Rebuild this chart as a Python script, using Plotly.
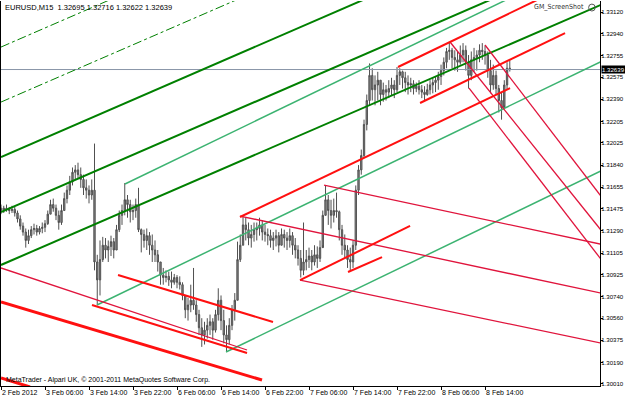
import plotly.graph_objects as go

# ---------------- data ----------------
# bar time in trading hours from 2 Feb 2012 22:00 (30-min aggregation of the M15 candles)
bar_hours = [i * 0.5 for i in range(186)]

highs = [1.3151,1.3150,1.3151,1.3149,1.3150,1.3149,1.3146,1.3142,1.3136,1.3131,
1.3130,1.3133,1.3135,1.3134,1.3133,1.3136,1.3138,1.3146,1.3155,1.3156,
1.3151,1.3146,1.3151,1.3161,1.3167,1.3175,1.3182,1.3184,1.3186,1.3182,
1.3176,1.3172,1.3167,1.3172,1.3202,1.3109,1.3121,1.3124,1.3123,1.3121,
1.3125,1.3123,1.3134,1.3146,1.3151,1.3169,1.3159,1.3155,1.3151,1.3156,
1.3165,1.3131,1.3130,1.3131,1.3128,1.3126,1.3121,1.3113,1.3103,1.3098,
1.3096,1.3095,1.3095,1.3093,1.3092,1.3091,1.3086,1.3075,1.3073,1.3084,
1.3098,1.3071,1.3063,1.3056,1.3053,1.3056,1.3059,1.3056,1.3063,1.3081,
1.3075,1.3063,1.3050,1.3056,1.3067,1.3077,1.3120,1.3126,1.3141,1.3140,
1.3136,1.3134,1.3136,1.3136,1.3140,1.3138,1.3134,1.3131,1.3130,1.3128,
1.3130,1.3128,1.3131,1.3130,1.3128,1.3131,1.3128,1.3123,1.3117,1.3113,
1.3136,1.3113,1.3115,1.3113,1.3117,1.3116,1.3121,1.3146,1.3167,1.3159,
1.3155,1.3156,1.3161,1.3146,1.3134,1.3126,1.3117,1.3115,1.3121,1.3167,
1.3184,1.3197,1.3222,1.3243,1.3269,1.3265,1.3259,1.3262,1.3255,1.3253,
1.3251,1.3255,1.3257,1.3255,1.3266,1.3265,1.3263,1.3262,1.3259,1.3257,
1.3255,1.3253,1.3255,1.3251,1.3250,1.3252,1.3255,1.3257,1.3258,1.3262,
1.3268,1.3274,1.3282,1.3287,1.3282,1.3280,1.3279,1.3284,1.3286,1.3284,
1.3276,1.3279,1.3282,1.3280,1.3285,1.3286,1.3284,1.3279,1.3272,1.3268,
1.3263,1.3251,1.3245,1.3255,1.3270,1.32716]

lows = [1.3143,1.3144,1.3145,1.3143,1.3144,1.3141,1.3136,1.3130,1.3125,1.3115,
1.3118,1.3123,1.3126,1.3125,1.3126,1.3127,1.3128,1.3134,1.3143,1.3145,
1.3138,1.3130,1.3134,1.3146,1.3152,1.3159,1.3167,1.3172,1.3173,1.3165,
1.3159,1.3156,1.3152,1.3155,1.3096,1.3067,1.3075,1.3103,1.3106,1.3103,
1.3108,1.3106,1.3113,1.3128,1.3134,1.3142,1.3140,1.3136,1.3138,1.3140,
1.3128,1.3111,1.3115,1.3113,1.3109,1.3103,1.3103,1.3095,1.3084,1.3084,
1.3086,1.3083,1.3081,1.3084,1.3081,1.3080,1.3071,1.3056,1.3054,1.3061,
1.3063,1.3053,1.3042,1.3032,1.3034,1.3039,1.3042,1.3038,1.3044,1.3054,
1.3046,1.3035,1.3028,1.3034,1.3046,1.3054,1.3071,1.3103,1.3117,1.3121,
1.3117,1.3115,1.3120,1.3121,1.3125,1.3121,1.3120,1.3117,1.3115,1.3113,
1.3116,1.3111,1.3117,1.3115,1.3113,1.3115,1.3109,1.3106,1.3100,1.3090,
1.3092,1.3096,1.3098,1.3096,1.3100,1.3098,1.3103,1.3117,1.3142,1.3134,
1.3131,1.3136,1.3140,1.3121,1.3109,1.3106,1.3098,1.3096,1.3098,1.3113,
1.3159,1.3176,1.3190,1.3213,1.3234,1.3238,1.3234,1.3238,1.3234,1.3237,
1.3238,1.3240,1.3242,1.3240,1.3245,1.3251,1.3248,1.3245,1.3243,1.3245,
1.3243,1.3245,1.3243,1.3240,1.3238,1.3242,1.3243,1.3244,1.3245,1.3247,
1.3251,1.3259,1.3265,1.3272,1.3265,1.3263,1.3262,1.3268,1.3270,1.3263,
1.3248,1.3255,1.3262,1.3263,1.3270,1.3272,1.3268,1.3257,1.3244,1.3247,
1.3243,1.3228,1.3222,1.3234,1.3247,1.32622]

closes = [1.3146,1.3148,1.3147,1.3146,1.3147,1.3144,1.3139,1.3133,1.3128,1.3121,
1.3125,1.3130,1.3131,1.3128,1.3131,1.3132,1.3135,1.3143,1.3151,1.3148,
1.3142,1.3136,1.3146,1.3156,1.3163,1.3170,1.3178,1.3180,1.3176,1.3172,
1.3165,1.3163,1.3159,1.3163,1.3103,1.3088,1.3105,1.3117,1.3113,1.3116,
1.3120,1.3113,1.3130,1.3142,1.3146,1.3155,1.3151,1.3145,1.3146,1.3151,
1.3130,1.3126,1.3121,1.3125,1.3117,1.3113,1.3109,1.3103,1.3092,1.3090,
1.3091,1.3088,1.3086,1.3090,1.3086,1.3084,1.3075,1.3063,1.3067,1.3071,
1.3067,1.3059,1.3048,1.3042,1.3046,1.3050,1.3053,1.3046,1.3059,1.3071,
1.3054,1.3042,1.3038,1.3050,1.3063,1.3071,1.3105,1.3117,1.3134,1.3130,
1.3123,1.3126,1.3130,1.3131,1.3134,1.3128,1.3126,1.3125,1.3121,1.3123,
1.3125,1.3117,1.3126,1.3123,1.3121,1.3125,1.3117,1.3113,1.3106,1.3096,
1.3103,1.3105,1.3108,1.3103,1.3109,1.3106,1.3115,1.3142,1.3155,1.3146,
1.3142,1.3146,1.3145,1.3130,1.3117,1.3113,1.3105,1.3103,1.3117,1.3163,
1.3180,1.3192,1.3218,1.3238,1.3259,1.3247,1.3251,1.3255,1.3243,1.3247,
1.3245,1.3248,1.3251,1.3247,1.3259,1.3262,1.3257,1.3253,1.3251,1.3252,
1.3248,1.3250,1.3247,1.3245,1.3243,1.3247,1.3251,1.3253,1.3255,1.3258,
1.3263,1.3270,1.3279,1.3280,1.3274,1.3272,1.3270,1.3276,1.3280,1.3270,
1.3259,1.3272,1.3274,1.3276,1.3280,1.3279,1.3276,1.3263,1.3251,1.3259,
1.3248,1.3238,1.3232,1.3251,1.3265,1.32639]

first_open = 1.3148
current_price = 1.32639

# drawn objects: (hour0, price0, hour1, price1, is_ray)
dark_green_lines = [(0, 1.31907, 50, 1.32905, True),
                    (0, 1.31448, 50, 1.32445, True),
                    (0, 1.31005, 50, 1.32002, True)]
dash_green_lines = [(0, 1.32367, 50, 1.33365, True),
                    (0, 1.32827, 50, 1.33825, True)]
light_green_lines = [(22.545, 1.31682, 60, 1.32514, True),
                     (17.455, 1.30670, 60, 1.31615, True),
                     (40.909, 1.30277, 100, 1.31590, True)]
red_lines = [(43.455, 1.31406, 92.545, 1.32484, False),
             (72.182, 1.32660, 90, 1.33055, True),
             (76.182, 1.32359, 102.545, 1.32944, False),
             (54.364, 1.30879, 74.364, 1.31331, False),
             (63.091, 1.30946, 69.273, 1.31071, False),
             (16.545, 1.30670, 44.727, 1.30269, False),
             (21.273, 1.30921, 49.455, 1.30528, False)]
thick_red_lines = [(0, 1.30695, 47.455, 1.30043, False),
                   (0, 1.30060, 5.273, 1.29985, False)]
crimson_lines = [(0, 1.30980, 44.727, 1.30294, False),
                 (58.727, 1.31673, 108.909, 1.31180, True),
                 (43.455, 1.31414, 108.909, 1.30771, True),
                 (54.364, 1.30879, 108.909, 1.30353, True),
                 (81.636, 1.32869, 108.909, 1.31306, True),
                 (88.0, 1.32844, 108.909, 1.31590, True),
                 (85.091, 1.32484, 108.909, 1.31063, True)]

x_tick_hours = [0, 8, 16, 24, 32, 40, 48, 56, 64, 72, 80, 88]
x_tick_labels = ["2 Feb 2012", "3 Feb 06:00", "3 Feb 14:00", "3 Feb 22:00",
                 "6 Feb 06:00", "6 Feb 14:00", "6 Feb 22:00", "7 Feb 06:00",
                 "7 Feb 14:00", "7 Feb 22:00", "8 Feb 06:00", "8 Feb 14:00"]
y_tick_prices = [1.30010, 1.30190, 1.30375, 1.30560, 1.30740, 1.30925, 1.31105,
                 1.31290, 1.31475, 1.31655, 1.31840, 1.32025, 1.32205, 1.32390,
                 1.32575, 1.32755, 1.32940, 1.33120]

X_RANGE = [0, 108.9]
Y_RANGE = [1.29993, 1.33212]

# ---------------- figure ----------------
opens = [first_open] + closes[:-1]
fig = go.Figure()

FONT = "Liberation Sans"
NARROW = "Liberation Sans Narrow, DejaVu Sans Condensed, Liberation Sans"


def add_lines(lines, color, width, dash="solid"):
    for (h0, p0, h1, p1, ray) in lines:
        if ray:
            slope = (p1 - p0) / (h1 - h0)
            h1e = 130
            p1 = p0 + slope * (h1e - h0)
            h1 = h1e
        fig.add_trace(go.Scatter(x=[h0, h1], y=[p0, p1], mode="lines",
                                 line=dict(color=color, width=width, dash=dash),
                                 hoverinfo="skip", showlegend=False))


# current price line
fig.add_trace(go.Scatter(x=[X_RANGE[0], X_RANGE[1]], y=[current_price, current_price],
                         mode="lines", line=dict(color="#8a96a8", width=1),
                         hoverinfo="skip", showlegend=False))

add_lines(dash_green_lines, "#008000", 1, "dashdot")
add_lines(dark_green_lines, "#008000", 2)
add_lines(light_green_lines, "#3cb371", 1.5)

fig.add_trace(go.Candlestick(
    x=bar_hours, open=opens, high=highs, low=lows, close=closes,
    increasing=dict(line=dict(color="#505050", width=1), fillcolor="#8a8a8a"),
    decreasing=dict(line=dict(color="#505050", width=1), fillcolor="#8a8a8a"),
    whiskerwidth=0, showlegend=False, hoverinfo="skip"))

add_lines(crimson_lines, "#e0143c", 1.3)
add_lines(red_lines, "#ff1010", 2)
add_lines(thick_red_lines, "#ff1010", 3)

fig.update_layout(
    width=625, height=397,
    margin=dict(l=1, r=25, t=1, b=11, autoexpand=False),
    paper_bgcolor="white", plot_bgcolor="white",
    showlegend=False,
    font=dict(family=FONT, size=7, color="black"),
    xaxis=dict(range=X_RANGE, tickvals=x_tick_hours, ticktext=x_tick_labels,
               ticks="outside", ticklen=3, tickcolor="black", tickangle=0,
               ticklabelposition="outside right", automargin=False,
               tickfont=dict(family=FONT, size=7, color="black"),
               showgrid=False, zeroline=False, showline=True, linecolor="black",
               linewidth=1, rangeslider=dict(visible=False), fixedrange=True),
    yaxis=dict(range=Y_RANGE, side="right", tickvals=y_tick_prices,
               ticktext=[f"{v:.5f}" for v in y_tick_prices], automargin=False,
               ticks="outside", ticklen=2, tickcolor="black",
               ticklabelstandoff=-3,
               tickfont=dict(family=FONT, size=6.1, color="black"),
               showgrid=False, zeroline=False, showline=True, linecolor="black",
               linewidth=1, mirror=True, fixedrange=True),
)

fig.add_annotation(xref="paper", yref="paper", x=0.0033, y=0.984, xanchor="left",
                   yanchor="middle", showarrow=False,
                   text="EURUSD,M15  1.32695 1.32716 1.32622 1.32639",
                   font=dict(family=FONT, size=7.5, color="black"))
fig.add_annotation(xref="paper", yref="paper", x=0.9766, y=0.984, xanchor="right",
                   yanchor="middle", showarrow=False, text="GM_ScreenShot",
                   font=dict(family=NARROW, size=7, color="#333333"))
fig.add_shape(type="circle", xref="paper", yref="paper",
              x0=0.981, x1=0.992, y0=0.974, y1=0.992,
              line=dict(color="#555555", width=1))
fig.add_annotation(xref="paper", yref="paper", x=0.005, y=0.0156, xanchor="left",
                   yanchor="middle", showarrow=False,
                   text="MetaTrader - Alpari UK, © 2001-2011 MetaQuotes Software Corp.",
                   font=dict(family=FONT, size=7, color="black"))
fig.add_annotation(xref="paper", yref="y", x=1.0, y=current_price, xanchor="left",
                   yanchor="middle", showarrow=False, text="1.32639",
                   bgcolor="#000000", borderpad=0, xshift=1,
                   font=dict(family=FONT, size=6.1, color="white"))

fig.write_html("out.html")
